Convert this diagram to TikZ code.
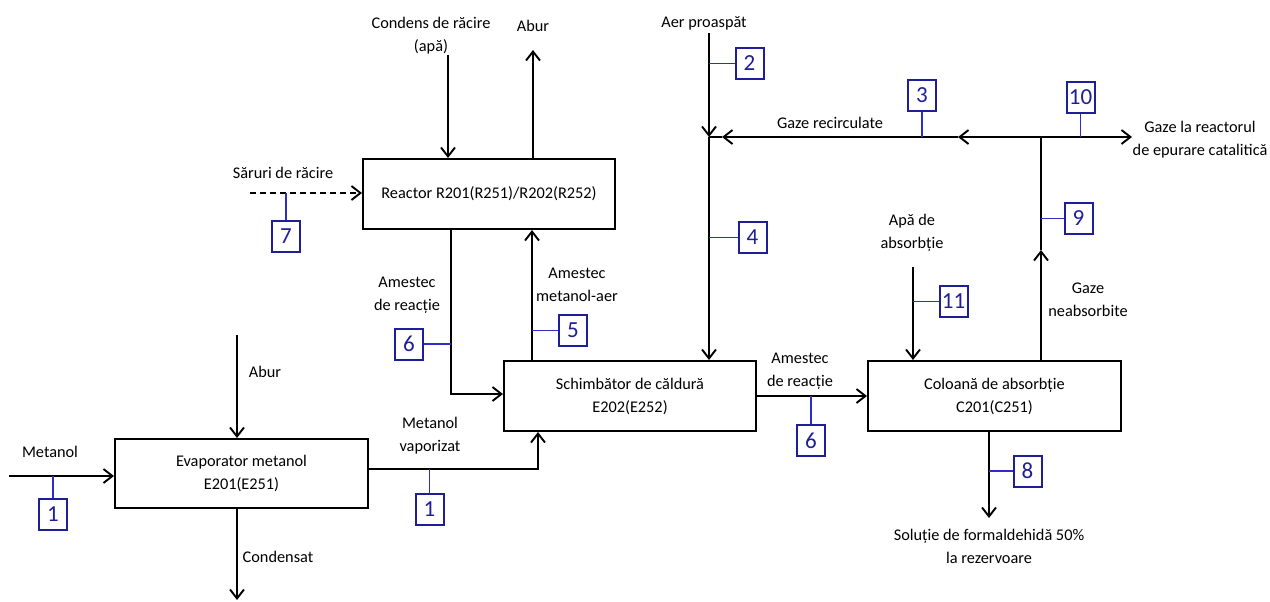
\documentclass[tikz,border=0pt]{standalone}
\usepackage{fontspec}
\setmainfont{Carlito}
\usetikzlibrary{arrows.meta}
\definecolor{tagblue}{RGB}{30,30,150}
\definecolor{stemblue}{RGB}{45,45,200}
\begin{document}
\begin{tikzpicture}[x=0.5pt,y=-0.5pt,
 box/.style={draw,line width=1pt,minimum height=35pt,align=center,font=\fontsize{8.15}{11.5}\selectfont,inner sep=0},
 flow/.style={line width=0.95pt,-{Straight Barb[length=4.5pt,width=7pt]}},
 plainline/.style={line width=0.95pt},
 tagbox/.style={draw=tagblue,text=tagblue,line width=1pt,minimum width=14pt,minimum height=15.5pt,inner sep=0,font=\fontsize{11.5}{13}\selectfont},
 stem/.style={draw=stemblue,line width=0.9pt},
 lbl/.style={align=center,inner sep=0,font=\fontsize{8.15}{11.5}\selectfont}]
\useasboundingbox (0,0) rectangle (1270,601);

% boxes
\node[box,minimum width=126.5pt,minimum height=34.5pt] (evap) at (241.5,473.5) {Evaporator metanol\\E201(E251)};
\node[box,minimum width=126pt] (reac) at (489,194) {Reactor R201(R251)/R202(R252)};
\node[box,minimum width=126pt] (schimb) at (630,396) {Schimbător de căldură\\E202(E252)};
\node[box,minimum width=126.5pt] (col) at (994.5,396) {Coloană de absorbție\\C201(C251)};

% tags
\node[tagbox] (t1a) at (53,514.5) {1};
\node[tagbox] (t1b) at (429.5,509) {1};
\node[tagbox] (t2) at (749.5,63.5) {2};
\node[tagbox] (t3) at (922,95) {3};
\node[tagbox] (t4) at (752.5,237.5) {4};
\node[tagbox] (t5) at (573,330.5) {5};
\node[tagbox] (t6a) at (409,344) {6};
\node[tagbox] (t6b) at (811,440.5) {6};
\node[tagbox] (t7) at (286,236.5) {7};
\node[tagbox] (t8) at (1027.5,471) {8};
\node[tagbox] (t9) at (1078.5,218.5) {9};
\node[tagbox] (t10) at (1080.5,97.5) {10};
\node[tagbox] (t11) at (953.5,301.5) {11};

% labels
\node[lbl] (lmet) at (50,452) {Metanol};
\node[lbl] (labur1) at (265,372) {Abur};
\node[lbl] (lcond) at (278,557) {Condensat};
\node[lbl] (lvap) at (430,435.5) {Metanol\\vaporizat};
\node[lbl] (lamr1) at (407,295) {Amestec\\de reacție};
\node[lbl] (lma) at (577,284.5) {Amestec\\metanol-aer};
\node[lbl] (lcr) at (431,35.5) {Condens de răcire\\(apă)};
\node[lbl] (labur2) at (533,26) {Abur};
\node[lbl] (lsar) at (283,173) {Săruri de răcire};
\node[lbl] (laer) at (704,23) {Aer proaspăt};
\node[lbl] (lrec) at (830,123) {Gaze recirculate};
\node[lbl] (lgr) at (1200,140) {Gaze la reactorul\\de epurare catalitică};
\node[lbl] (lneab) at (1088,299.5) {Gaze\\neabsorbite};
\node[lbl] (lapa) at (912,232.5) {Apă de\\absorbție};
\node[lbl] (lamr2) at (800,371) {Amestec\\de reacție};
\node[lbl] (lsol) at (989,546.5) {Soluție de formaldehidă 50\%\\la rezervoare};

% coordinates
\coordinate (metin) at (9,476);
\coordinate (aburin) at (237,335);
\coordinate (condout) at (237,600);
\coordinate (vapA) at (evap.east |- 0,469);
\coordinate (vapB) at (538,469);
\coordinate (rA) at (451,394);
\coordinate (crin) at (448,55);
\coordinate (aburout) at (533,50);
\coordinate (sarin) at (250,193);
\coordinate (aerin) at (709,33);
\coordinate (jL) at (709,137);
\coordinate (jR) at (1041,137);
\coordinate (a1) at (958,137);
\coordinate (a2) at (722,137);
\coordinate (gout) at (1132,137);
\coordinate (nab) at (1041,250);
\coordinate (apain) at (913,267);
\coordinate (solout) at (989,518);

% flows
\draw[flow] (metin) -- (evap.west |- metin);
\draw[flow] (aburin) -- (aburin |- evap.north);
\draw[flow] (aburin |- evap.south) -- (condout);
\draw[flow] (vapA) -- (vapB) -- (vapB |- schimb.south);
\draw[flow] (rA |- reac.south) -- (rA) -- (schimb.west |- rA);
\draw[flow] (532,0 |- schimb.north) -- (532,0 |- reac.south);
\draw[flow] (crin) -- (crin |- reac.north);
\draw[flow] (aburout |- reac.north) -- (aburout);
\draw[flow,dash pattern=on 3pt off 2pt] (sarin) -- (reac.west |- sarin);
\draw[flow] (aerin) -- (jL);
\draw[flow] (jL) -- (jL |- schimb.north);
\draw[flow] (jR) -- (a1);
\draw[flow] (a1) -- (a2);
\draw[plainline] (a2) -- (jL);
\draw[flow] (jR) -- (gout);
\draw[flow] (nab |- col.north) -- (nab);
\draw[plainline] (nab) -- (jR);
\draw[flow] (apain) -- (apain |- col.north);
\draw[flow] (schimb.east |- 0,396) -- (col.west |- 0,396);
\draw[flow] (solout |- col.south) -- (solout);

% stems
\draw[stem] (t1a.north |- metin) -- (t1a.north);
\draw[stem] (t1b.north |- vapA) -- (t1b.north);
\draw[stem] (jL |- t2.west) -- (t2.west);
\draw[stem] (t3.south |- jL) -- (t3.south);
\draw[stem] (jL |- t4.west) -- (t4.west);
\draw[stem] (532,0 |- t5.west) -- (t5.west);
\draw[stem] (rA |- t6a.east) -- (t6a.east);
\draw[stem] (t6b.north |- 0,396) -- (t6b.north);
\draw[stem] (t7.north |- sarin) -- (t7.north);
\draw[stem] (solout |- t8.west) -- (t8.west);
\draw[stem] (nab |- t9.west) -- (t9.west);
\draw[stem] (t10.south |- jR) -- (t10.south);
\draw[stem] (apain |- t11.west) -- (t11.west);
\end{tikzpicture}
\end{document}
